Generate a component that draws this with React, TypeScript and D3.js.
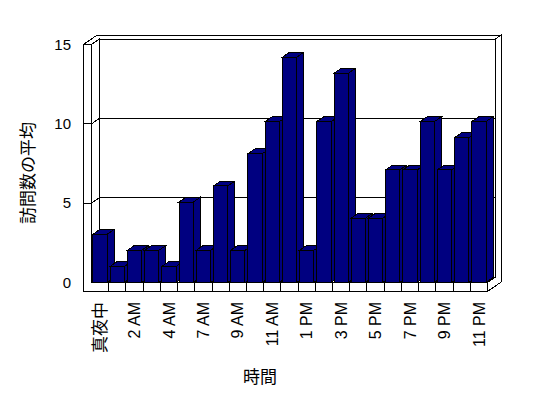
import React from 'react'
import * as d3 from 'd3'

// hourly categories (6 AM is missing in the source data)
const hours = [
  '真夜中', '1 AM', '2 AM', '3 AM', '4 AM', '5 AM', '7 AM', '8 AM', '9 AM', '10 AM', '11 AM', '正午',
  '1 PM', '2 PM', '3 PM', '4 PM', '5 PM', '6 PM', '7 PM', '8 PM', '9 PM', '10 PM', '11 PM',
]
const visits = [3, 1, 2, 2, 1, 5, 2, 6, 2, 8, 10, 14, 2, 10, 13, 4, 4, 7, 7, 10, 7, 9, 10]
const yTicks = [0, 5, 10, 15]
const yTitle = '訪問数の平均'
const xTitle = '時間'

const W = 548
const H = 398
const left = 91.5
const right = 487.5
const wallW = 8
const yTop = 44.5
const floorTop = 282.5
const floorBottom = 291.5
// oblique depth vector, one unit = plot depth
const DX = 7.5
const DY = -5.2
const BACK = 1.8
const barDepth = 0.93

const latin = "'Liberation Sans', Arial, 'Noto Sans CJK JP', sans-serif"
const cjk = "'Noto Sans CJK JP', 'Liberation Sans', sans-serif"

const idx = d3.range(hours.length)
const x = d3.scaleBand<number>().domain(idx).range([left, right]).padding(0)
const xBar = d3
  .scaleBand<number>()
  .domain(idx)
  .range([left, right])
  .paddingInner(0.17)
  .paddingOuter(0.085)
const y = d3.scaleLinear().domain([0, 15]).range([floorTop, yTop])
// bars read slightly taller than the wall scale (perspective in the original)
const yBar = d3.scaleLinear().domain([0, 15]).range([floorTop, floorTop - 15 * 16.09])

const pt = (px: number, py: number, z: number): [number, number] => [px + z * DX, py + z * DY]
const poly = (pts: [number, number][]) => pts.map((p) => p.join(',')).join(' ')

const face = { fill: 'white', stroke: 'black', strokeWidth: 1 }
const barFace = { fill: '#000080', stroke: 'black', strokeWidth: 1 }

const hasCJK = (s: string) => /[\u3000-\u9fff]/.test(s)

export default function App() {
  const wl = left - wallW
  const inner = yTicks.filter((v) => v > 0 && v < 15)

  return (
    <svg
      width={W}
      height={H}
      viewBox={`0 0 ${W} ${H}`}
      style={{ position: 'absolute', left: 0, top: 0, background: 'white' }}
      shapeRendering="crispEdges"
    >
      <rect width={W} height={H} fill="white" />

      {/* walls and floor */}
      <polygon
        {...face}
        points={poly([
          pt(wl, yTop, 0),
          pt(left, yTop, 0),
          pt(left, yTop, 1),
          pt(right, yTop, 1),
          pt(right, yTop, BACK),
          pt(wl, yTop, BACK),
        ])}
      />
      <polygon
        {...face}
        points={poly([
          pt(right, yTop, 1),
          pt(right, yTop, BACK),
          pt(right, floorBottom, BACK),
          pt(right, floorBottom, 0),
          pt(right, floorTop, 0),
          pt(right, floorTop, 1),
        ])}
      />
      <polygon
        {...face}
        points={poly([pt(left, yTop, 1), pt(right, yTop, 1), pt(right, floorTop, 1), pt(left, floorTop, 1)])}
      />
      <polygon
        {...face}
        points={poly([pt(left, yTop, 0), pt(left, yTop, 1), pt(left, floorTop, 1), pt(left, floorTop, 0)])}
      />
      {inner.map((v) => {
        const a = pt(left, y(v), 0)
        const b = pt(left, y(v), 1)
        const c = pt(right, y(v), 1)
        return (
          <g key={'g' + v} stroke="black">
            <line x1={b[0]} y1={b[1]} x2={c[0]} y2={c[1]} />
            <line x1={a[0]} y1={a[1]} x2={b[0]} y2={b[1]} />
          </g>
        )
      })}
      <polygon
        {...face}
        points={poly([pt(left, floorTop, 0), pt(right, floorTop, 0), pt(right, floorTop, 1), pt(left, floorTop, 1)])}
      />

      {/* bars */}
      {visits.map((v, i) => {
        const x0 = xBar(i) as number
        const x1 = x0 + xBar.bandwidth()
        const yt = yBar(v)
        return (
          <g key={'b' + i}>
            <polygon
              {...barFace}
              points={poly([pt(x1, yt, 0), pt(x1, yt, barDepth), pt(x1, floorTop, barDepth), pt(x1, floorTop, 0)])}
            />
            <polygon
              {...barFace}
              points={poly([pt(x0, yt, 0), pt(x1, yt, 0), pt(x1, yt, barDepth), pt(x0, yt, barDepth)])}
            />
            <rect {...barFace} x={x0} y={yt} width={x1 - x0} height={floorTop - yt} />
          </g>
        )
      })}

      {/* front slab of left wall and floor */}
      <polygon
        {...face}
        points={poly([
          [wl, yTop],
          [left, yTop],
          [left, floorTop],
          [right, floorTop],
          [right, floorBottom],
          [wl, floorBottom],
        ])}
      />
      {inner.map((v) => (
        <line key={'t' + v} x1={wl} x2={left} y1={y(v)} y2={y(v)} stroke="black" />
      ))}
      {idx.slice(1).map((i) => (
        <line
          key={'d' + i}
          x1={x(i)}
          x2={x(i)}
          y1={floorTop}
          y2={floorBottom}
          stroke="black"
        />
      ))}

      {/* y tick labels */}
      {yTicks.map((v) => (
        <text
          key={'yl' + v}
          x={71}
          y={y(v)}
          dy="0.35em"
          textAnchor="end"
          fontFamily={latin}
          fontSize={15}
          fill="black"
        >
          {v}
        </text>
      ))}

      {/* x tick labels, every other category */}
      {hours.map((h, i) =>
        i % 2 === 0 ? (
          <text
            key={'xl' + i}
            transform={`translate(${(x(i) as number) + x.bandwidth() / 2},302) rotate(-90)`}
            dy="0.35em"
            textAnchor="end"
            fontFamily={hasCJK(h) ? cjk : latin}
            fontSize={hasCJK(h) ? 17 : 16}
            fill="black"
          >
            {h}
          </text>
        ) : null
      )}

      {/* axis titles */}
      <text
        transform="translate(28,173) rotate(-90)"
        dy="0.35em"
        textAnchor="middle"
        fontFamily={cjk}
        fontSize={17}
        fill="black"
      >
        {yTitle}
      </text>
      <text x={260} y={377} dy="0.35em" textAnchor="middle" fontFamily={cjk} fontSize={17} fill="black">
        {xTitle}
      </text>
    </svg>
  )
}
